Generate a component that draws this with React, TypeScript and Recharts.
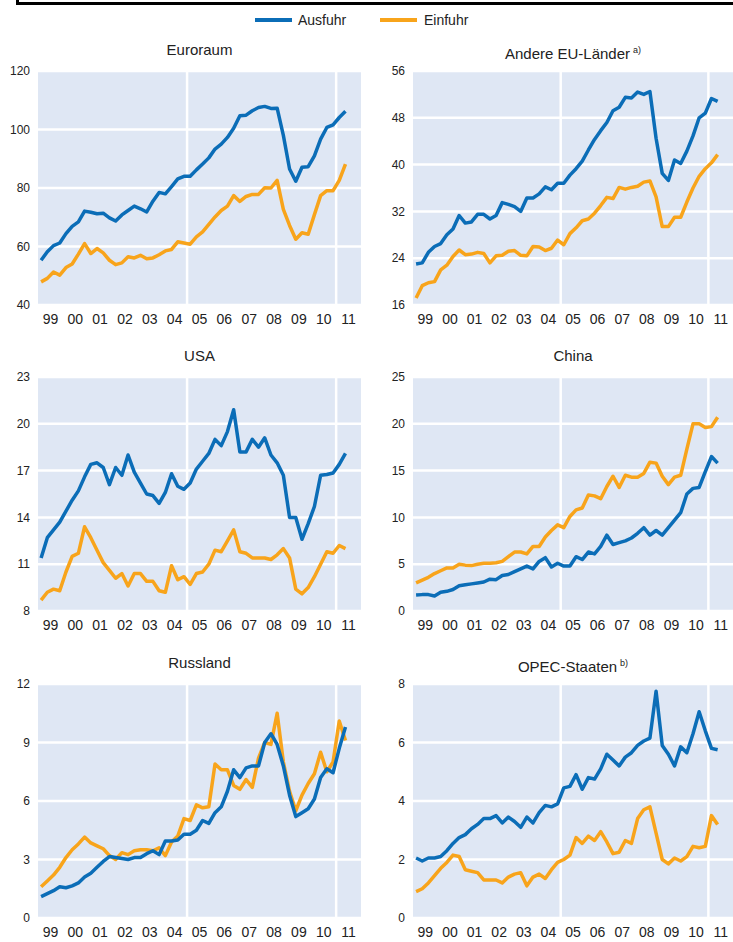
import React from 'react';
import { LineChart, Line, XAxis, YAxis, CartesianGrid } from 'recharts';

const BLUE = '#0b6db7';
const ORANGE = '#f8a41b';
const BG = '#dfe7f4';
const TEXT = '#222';

// quarterly data, 1999Q1 .. 2011Q2
const YEARS = [1999, 2000, 2001, 2002, 2003, 2004, 2005, 2006, 2007, 2008, 2009, 2010, 2011];
const QUARTERS = [1, 2, 3, 4];
const PERIODS = YEARS.flatMap((y) => QUARTERS.map((q) => `${y}Q${q}`)).slice(0, 50);

// x-axis: tick marks at year boundaries, labels in the middle of each year
const YEAR_BOUNDS = [1999, 2000, 2001, 2002, 2003, 2004, 2005, 2006, 2007, 2008, 2009, 2010, 2011, 2012];
const YEAR_LABELS = ['99', '00', '01', '02', '03', '04', '05', '06', '07', '08', '09', '10', '11'];

const euroAusfuhr = [55.3, 58.2, 60.3, 61.2, 64.4, 66.9, 68.4, 72.1, 71.7, 71.2, 71.4, 69.8, 68.7, 70.8, 72.3, 73.8, 72.9, 71.8, 75.5, 78.5, 78.0, 80.5, 83.1, 84.0, 84.0, 86.2, 88.2, 90.3, 93.3, 95.0, 97.3, 100.4, 104.7, 104.9, 106.4, 107.5, 107.9, 107.2, 107.3, 98.0, 86.5, 82.3, 87.1, 87.3, 91.0, 96.7, 100.7, 101.6, 104.1, 106.2];
const euroEinfuhr = [47.9, 49.1, 51.3, 50.2, 52.8, 54.0, 57.4, 61.0, 57.6, 59.3, 57.8, 55.3, 53.8, 54.4, 56.5, 56.1, 57.0, 55.8, 56.1, 57.2, 58.5, 59.0, 61.6, 61.2, 60.8, 63.3, 65.0, 67.6, 70.1, 72.3, 73.8, 77.4, 75.4, 77.1, 77.8, 77.8, 80.1, 80.0, 82.6, 72.7, 67.2, 62.5, 64.7, 64.2, 70.9, 77.4, 79.1, 79.1, 82.6, 88.2];

const euAusfuhr = [23.0, 23.2, 25.0, 26.0, 26.5, 28.0, 29.0, 31.3, 30.0, 30.2, 31.5, 31.5, 30.7, 31.3, 33.5, 33.2, 32.8, 32.0, 34.3, 34.3, 35.0, 36.2, 35.7, 36.8, 36.8, 38.2, 39.3, 40.6, 42.5, 44.3, 45.8, 47.2, 49.2, 49.8, 51.5, 51.4, 52.4, 52.0, 52.5, 44.5, 38.5, 37.3, 40.8, 40.2, 42.3, 44.9, 48.0, 48.8, 51.3, 50.8];
const euEinfuhr = [17.2, 19.3, 19.8, 20.0, 22.0, 22.8, 24.3, 25.4, 24.6, 24.7, 25.0, 24.8, 23.2, 24.4, 24.5, 25.2, 25.3, 24.5, 24.4, 26.0, 25.9, 25.3, 25.7, 27.1, 26.3, 28.2, 29.2, 30.4, 30.7, 31.7, 33.0, 34.4, 34.2, 36.1, 35.8, 36.1, 36.3, 37.0, 37.2, 34.5, 29.4, 29.4, 31.0, 31.0, 33.6, 36.0, 38.0, 39.3, 40.3, 41.7];

const usaAusfuhr = [11.4, 12.7, 13.2, 13.7, 14.4, 15.1, 15.7, 16.6, 17.4, 17.5, 17.2, 16.1, 17.2, 16.7, 18.0, 16.9, 16.2, 15.5, 15.4, 14.9, 15.6, 16.8, 16.0, 15.8, 16.2, 17.1, 17.6, 18.1, 19.0, 18.6, 19.5, 20.9, 18.2, 18.2, 19.0, 18.5, 19.1, 18.0, 17.5, 16.7, 14.0, 14.0, 12.6, 13.6, 14.7, 16.7, 16.75, 16.85, 17.4, 18.1];
const usaEinfuhr = [8.7, 9.2, 9.4, 9.3, 10.5, 11.5, 11.7, 13.4, 12.7, 11.9, 11.1, 10.6, 10.1, 10.4, 9.6, 10.4, 10.4, 9.9, 9.9, 9.3, 9.2, 10.9, 10.0, 10.2, 9.7, 10.4, 10.5, 11.0, 11.9, 11.8, 12.5, 13.2, 11.8, 11.7, 11.4, 11.4, 11.4, 11.3, 11.6, 12.0, 11.4, 9.4, 9.1, 9.5, 10.2, 11.0, 11.8, 11.7, 12.2, 12.0];

const chinaAusfuhr = [1.7, 1.75, 1.75, 1.6, 2.0, 2.1, 2.3, 2.7, 2.8, 2.9, 3.0, 3.1, 3.4, 3.35, 3.8, 3.9, 4.2, 4.5, 4.8, 4.5, 5.3, 5.7, 4.7, 5.1, 4.8, 4.8, 5.8, 5.5, 6.3, 6.1, 6.9, 8.1, 7.1, 7.3, 7.5, 7.8, 8.3, 8.9, 8.1, 8.6, 8.1, 8.9, 9.7, 10.5, 12.5, 13.1, 13.2, 14.9, 16.5, 15.8];
const chinaEinfuhr = [3.0, 3.3, 3.6, 4.0, 4.3, 4.6, 4.6, 5.0, 4.9, 4.85, 5.0, 5.1, 5.1, 5.15, 5.3, 5.8, 6.3, 6.3, 6.1, 6.9, 6.9, 7.9, 8.6, 9.2, 8.9, 10.1, 10.8, 11.0, 12.4, 12.3, 12.0, 13.3, 14.4, 13.2, 14.5, 14.3, 14.3, 14.7, 15.9, 15.8, 14.4, 13.5, 14.3, 14.5, 17.3, 20.0, 20.0, 19.6, 19.7, 20.7];

const russAusfuhr = [1.1, 1.25, 1.4, 1.6, 1.55, 1.65, 1.8, 2.1, 2.3, 2.6, 2.9, 3.15, 3.1, 3.05, 3.0, 3.1, 3.1, 3.3, 3.45, 3.25, 3.95, 3.95, 4.0, 4.3, 4.3, 4.5, 5.0, 4.85, 5.4, 5.7, 6.5, 7.6, 7.2, 7.7, 7.8, 7.8, 9.0, 9.45, 8.9, 7.8, 6.3, 5.2, 5.4, 5.6, 6.1, 7.2, 7.65, 7.45, 8.7, 9.8];
const russEinfuhr = [1.6, 1.9, 2.2, 2.6, 3.1, 3.5, 3.8, 4.15, 3.85, 3.7, 3.55, 3.2, 3.0, 3.35, 3.25, 3.45, 3.5, 3.5, 3.45, 3.6, 3.2, 3.9, 4.2, 5.1, 5.0, 5.8, 5.65, 5.7, 7.9, 7.6, 7.6, 6.8, 6.6, 7.1, 6.7, 8.2, 9.0, 8.9, 10.5, 8.0, 6.5, 5.5, 6.3, 6.9, 7.4, 8.5, 7.5, 8.0, 10.1, 9.1];

const opecAusfuhr = [2.05, 1.95, 2.05, 2.05, 2.1, 2.3, 2.55, 2.75, 2.85, 3.05, 3.2, 3.4, 3.4, 3.5, 3.25, 3.45, 3.3, 3.1, 3.45, 3.25, 3.6, 3.85, 3.8, 3.9, 4.45, 4.5, 4.9, 4.4, 4.8, 4.75, 5.1, 5.6, 5.4, 5.2, 5.5, 5.65, 5.9, 6.05, 6.15, 7.75, 5.9, 5.6, 5.2, 5.85, 5.65, 6.3, 7.05, 6.4, 5.8, 5.75];
const opecEinfuhr = [0.9, 1.0, 1.2, 1.45, 1.7, 1.9, 2.15, 2.1, 1.65, 1.6, 1.55, 1.3, 1.3, 1.3, 1.2, 1.4, 1.5, 1.55, 1.1, 1.4, 1.5, 1.35, 1.65, 1.9, 2.0, 2.15, 2.75, 2.55, 2.8, 2.65, 2.95, 2.6, 2.2, 2.25, 2.65, 2.55, 3.4, 3.7, 3.8, 2.9, 2.0, 1.85, 2.05, 1.95, 2.1, 2.45, 2.4, 2.45, 3.5, 3.2];

// position of a quarter on the time axis (middle of the quarter)
const toX = (p: string) => Number(p.slice(0, 4)) + (Number(p.slice(5)) - 0.5) / 4;

const PLOT_TOP = 32;
const PLOT_H = 234;
const LABEL_H = 24;
const CHART_H = PLOT_TOP + PLOT_H + LABEL_H;

const Notch = (props: any) => (
  <line x1={props.x} x2={props.x} y1={props.y} y2={props.y - 4} stroke="#fff" strokeWidth={2} />
);

type PanelProps = {
  title: string;
  note?: string;
  ausfuhr: number[];
  einfuhr: number[];
  domain: [number, number];
  ticks: number[];
  left: number;
  top: number;
  side: 'left' | 'right';
};

function Panel({ title, note, ausfuhr, einfuhr, domain, ticks, left, top, side }: PanelProps) {
  const width = side === 'left' ? 366 : 367;
  const mLeft = side === 'left' ? 8 : 17;
  const mRight = side === 'left' ? 5 : 0;
  const plotLeft = mLeft + 30;
  const plotW = width - plotLeft - mRight;

  const data = PERIODS.map((p, i) => ({
    period: p,
    t: toX(p),
    ausfuhr: ausfuhr[i],
    einfuhr: einfuhr[i],
  }));

  return (
    <div style={{ position: 'absolute', left, top, width, height: CHART_H }}>
      <div
        style={{
          position: 'absolute',
          left: plotLeft,
          width: plotW,
          top: 2,
          textAlign: 'center',
          fontSize: 15,
          lineHeight: '18px',
          color: TEXT,
        }}
      >
        {title}
        {note && <span style={{ fontSize: 9, verticalAlign: 'super', marginLeft: 3 }}>{note}</span>}
      </div>
      <LineChart
        width={width}
        height={CHART_H}
        data={data}
        margin={{ top: PLOT_TOP, right: mRight, bottom: 0, left: mLeft }}
      >
        <CartesianGrid
          fill={BG}
          fillOpacity={1}
          stroke="#fff"
          strokeWidth={2.5}
          verticalValues={[2005, 2011]}
        />
        <XAxis
          dataKey="t"
          type="number"
          domain={[1999, 2012]}
          ticks={YEAR_BOUNDS}
          interval={0}
          axisLine={false}
          tickLine={false}
          tickSize={0}
          tickMargin={0}
          height={0}
          tick={Notch}
          allowDataOverflow
        />
        <XAxis
          xAxisId="lbl"
          dataKey="t"
          type="number"
          domain={[1999, 2012]}
          ticks={YEARS.map((y) => y + 0.5)}
          interval={0}
          tickFormatter={(v: number) => YEAR_LABELS[Math.floor(v) - 1999]}
          axisLine={false}
          tickLine={false}
          tickSize={0}
          tickMargin={9}
          height={LABEL_H}
          tick={{ fontSize: 14, fill: TEXT }}
        />
        <YAxis
          domain={domain}
          ticks={ticks}
          interval={0}
          axisLine={false}
          tickLine={false}
          tickSize={0}
          tickMargin={8}
          width={30}
          tick={{ fontSize: 12, fill: TEXT }}
          allowDataOverflow
        />
        <Line
          dataKey="einfuhr"
          type="linear"
          stroke={ORANGE}
          strokeWidth={3.5}
          strokeLinejoin="round"
          dot={false}
          isAnimationActive={false}
        />
        <Line
          dataKey="ausfuhr"
          type="linear"
          stroke={BLUE}
          strokeWidth={3.5}
          strokeLinejoin="round"
          dot={false}
          isAnimationActive={false}
        />
      </LineChart>
    </div>
  );
}

export default function App() {
  return (
    <div
      style={{
        position: 'absolute',
        left: 0,
        top: 0,
        width: 733,
        height: 942,
        overflow: 'hidden',
        background: '#fff',
        fontFamily: '"Liberation Sans", Arial, sans-serif',
        color: TEXT,
      }}
    >
      {/* bottom edge of the frame above */}
      <div
        style={{
          position: 'absolute',
          left: 16,
          top: 0,
          width: 720,
          height: 2,
          borderLeft: '3px solid #000',
          borderBottom: '3px solid #000',
        }}
      />

      {/* legend */}
      <div style={{ position: 'absolute', left: 255, top: 18, width: 37, height: 4, background: BLUE }} />
      <div style={{ position: 'absolute', left: 298, top: 11, fontSize: 14, lineHeight: '18px' }}>Ausfuhr</div>
      <div style={{ position: 'absolute', left: 380, top: 18, width: 37, height: 4, background: ORANGE }} />
      <div style={{ position: 'absolute', left: 424, top: 11, fontSize: 14, lineHeight: '18px' }}>Einfuhr</div>

      <Panel title="Euroraum" ausfuhr={euroAusfuhr} einfuhr={euroEinfuhr} domain={[40, 120]} ticks={[40, 60, 80, 100, 120]} left={0} top={39} side="left" />
      <Panel title="Andere EU-Länder" note="a)" ausfuhr={euAusfuhr} einfuhr={euEinfuhr} domain={[16, 56]} ticks={[16, 24, 32, 40, 48, 56]} left={366} top={39} side="right" />
      <Panel title="USA" ausfuhr={usaAusfuhr} einfuhr={usaEinfuhr} domain={[8, 23]} ticks={[8, 11, 14, 17, 20, 23]} left={0} top={345} side="left" />
      <Panel title="China" ausfuhr={chinaAusfuhr} einfuhr={chinaEinfuhr} domain={[0, 25]} ticks={[0, 5, 10, 15, 20, 25]} left={366} top={345} side="right" />
      <Panel title="Russland" ausfuhr={russAusfuhr} einfuhr={russEinfuhr} domain={[0, 12]} ticks={[0, 3, 6, 9, 12]} left={0} top={652} side="left" />
      <Panel title="OPEC-Staaten" note="b)" ausfuhr={opecAusfuhr} einfuhr={opecEinfuhr} domain={[0, 8]} ticks={[0, 2, 4, 6, 8]} left={366} top={652} side="right" />
    </div>
  );
}
